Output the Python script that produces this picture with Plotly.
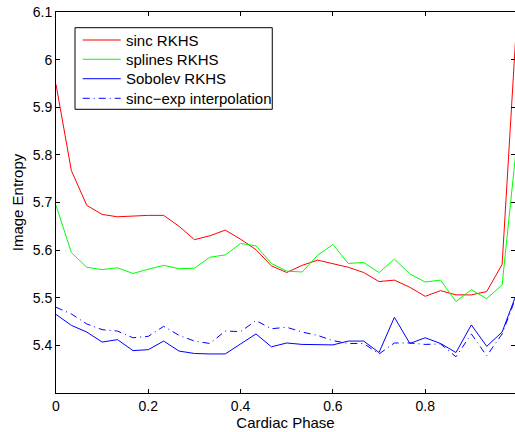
import plotly.graph_objects as go

phase = [0.0, 0.0333, 0.0667, 0.1, 0.1333, 0.1667, 0.2, 0.2333, 0.2667, 0.3,
         0.3333, 0.3667, 0.4, 0.4333, 0.4667, 0.5, 0.5333, 0.5667, 0.6, 0.6333,
         0.6667, 0.7, 0.7333, 0.7667, 0.8, 0.8333, 0.8667, 0.9, 0.9333, 0.9667, 1.0]

sinc_rkhs = [5.948, 5.767, 5.694, 5.675, 5.670, 5.672, 5.673, 5.673, 5.650, 5.622,
             5.630, 5.642, 5.623, 5.601, 5.567, 5.553, 5.568, 5.579, 5.571, 5.564,
             5.553, 5.534, 5.537, 5.522, 5.503, 5.515, 5.506, 5.506, 5.513, 5.570, 6.11]

splines_rkhs = [5.694, 5.595, 5.564, 5.559, 5.563, 5.551, 5.560, 5.568, 5.561, 5.562,
                5.585, 5.590, 5.614, 5.609, 5.572, 5.556, 5.554, 5.589, 5.612, 5.572,
                5.574, 5.553, 5.581, 5.550, 5.533, 5.537, 5.492, 5.517, 5.498, 5.527, 5.84]

sobolev_rkhs = [5.465, 5.442, 5.428, 5.407, 5.412, 5.389, 5.391, 5.409, 5.388, 5.383,
                5.382, 5.382, 5.403, 5.424, 5.397, 5.405, 5.402, 5.402, 5.401, 5.409,
                5.409, 5.385, 5.459, 5.404, 5.416, 5.404, 5.385, 5.443, 5.398, 5.428, 5.514]

sinc_exp = [5.480, 5.466, 5.445, 5.433, 5.430, 5.416, 5.419, 5.440, 5.421, 5.409,
            5.404, 5.430, 5.429, 5.452, 5.435, 5.438, 5.428, 5.421, 5.410, 5.404,
            5.404, 5.382, 5.405, 5.405, 5.402, 5.403, 5.376, 5.424, 5.378, 5.424, 5.51]

series_names = ["sinc RKHS", "splines RKHS", "Sobolev RKHS", "sinc\u2212exp interpolation"]

x_ticks = [0, 0.2, 0.4, 0.6, 0.8, 1.0]
x_ticklabels = ["0", "0.2", "0.4", "0.6", "0.8", "1"]
y_ticks = [5.4, 5.5, 5.6, 5.7, 5.8, 5.9, 6.0, 6.1]
y_ticklabels = ["5.4", "5.5", "5.6", "5.7", "5.8", "5.9", "6", "6.1"]

FONT = "Liberation Sans, Arial, Helvetica, sans-serif"
FS = 15
TICK_FS = 14

colors = ["rgb(255,0,0)", "rgb(0,255,0)", "rgb(0,0,255)", "rgb(0,0,255)"]
dashes = ["solid", "solid", "solid", "7px,4px,1px,4px"]
values = [sinc_rkhs, splines_rkhs, sobolev_rkhs, sinc_exp]

fig = go.Figure()
for name, vals, col, dsh in zip(series_names, values, colors, dashes):
    fig.add_trace(go.Scatter(x=phase, y=vals, mode="lines", name=name,
                             line=dict(color=col, width=1, dash=dsh)))

# Legend (MATLAB style) built from shapes + annotations in paper coordinates
leg_x0, leg_x1 = 0.0414, 0.4712
leg_y0, leg_y1 = 0.7446, 0.9588
row_y = [0.9265, 0.8759, 0.8249, 0.7735]
line_x0, line_x1, text_x = 0.0582, 0.1410, 0.1490

shapes = [dict(type="rect", xref="paper", yref="paper", x0=leg_x0, x1=leg_x1,
               y0=leg_y0, y1=leg_y1, line=dict(color="black", width=1),
               fillcolor="white", layer="above")]
annotations = []
for name, col, dsh, ry in zip(series_names, colors, dashes, row_y):
    shapes.append(dict(type="line", xref="paper", yref="paper", x0=line_x0, x1=line_x1,
                       y0=ry, y1=ry, line=dict(color=col, width=1, dash=dsh), layer="above"))
    annotations.append(dict(xref="paper", yref="paper", x=text_x, y=ry, text=name,
                            showarrow=False, xanchor="left", yanchor="middle",
                            font=dict(family=FONT, size=FS, color="black")))

fig.update_layout(
    width=515, height=432,
    margin=dict(l=56, r=0, t=12, b=39, autoexpand=False),
    paper_bgcolor="white", plot_bgcolor="white",
    font=dict(family=FONT, size=FS, color="black"),
    showlegend=False,
    shapes=shapes,
    annotations=annotations,
    xaxis=dict(range=[0, 0.9946], tickvals=x_ticks, ticktext=x_ticklabels,
               ticks="inside", ticklen=4, tickcolor="black", automargin=False,
               tickfont=dict(family=FONT, size=TICK_FS, color="black"),
               showline=True, linecolor="black", linewidth=1, mirror="ticks",
               showgrid=False, zeroline=False,
               title=dict(text="Cardiac Phase", standoff=2,
                          font=dict(family=FONT, size=FS, color="black"))),
    yaxis=dict(range=[5.3, 6.1], tickvals=y_ticks, ticktext=y_ticklabels,
               ticks="inside", ticklen=4, tickcolor="black", automargin=False,
               tickfont=dict(family=FONT, size=TICK_FS, color="black"),
               showline=True, linecolor="black", linewidth=1, mirror=False,
               showgrid=False, zeroline=False,
               title=dict(text="Image Entropy", standoff=5,
                          font=dict(family=FONT, size=FS, color="black"))),
    yaxis2=dict(overlaying="y", side="right", anchor="x", matches="y",
                range=[5.3, 6.1], tickvals=y_ticks, ticks="inside", ticklen=4,
                tickcolor="black", showticklabels=False, showline=False,
                showgrid=False, zeroline=False, automargin=False),
)
fig.add_trace(go.Scatter(x=[None], y=[None], yaxis="y2", showlegend=False, hoverinfo="skip"))

fig.write_html(
    "out.html",
    config={"displayModeBar": False},
    post_script="document.body.style.margin='0';document.body.style.overflow='hidden';",
)
